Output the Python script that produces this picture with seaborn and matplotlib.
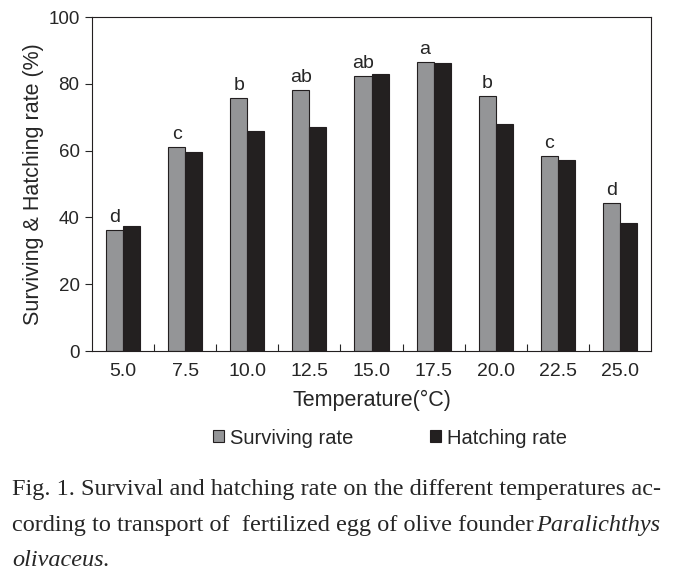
import pandas as pd
import numpy as np
import matplotlib.pyplot as plt
import seaborn as sns
from matplotlib.ticker import FixedLocator

sns.set_style("ticks")
plt.rcParams["font.family"] = ["Liberation Sans", "DejaVu Sans"]

temps = ["5.0", "7.5", "10.0", "12.5", "15.0", "17.5", "20.0", "22.5", "25.0"]
surviving = [36.2, 61.1, 75.7, 78.2, 82.3, 86.5, 76.3, 58.4, 44.2]
hatching = [37.5, 59.7, 66.0, 67.1, 82.9, 86.3, 68.1, 57.1, 38.3]
letters = ["d", "c", "b", "ab", "ab", "a", "b", "c", "d"]

df = pd.DataFrame({
    "Temperature": temps * 2,
    "Rate": surviving + hatching,
    "Series": ["Surviving rate"] * len(temps) + ["Hatching rate"] * len(temps),
})

fig = plt.figure(figsize=(6.75, 5.83), dpi=100)
ax = fig.add_axes([92 / 675, 1 - 351 / 583, (651 - 92) / 675, (351 - 17) / 583])

sns.barplot(data=df, x="Temperature", y="Rate", hue="Series",
            palette=["#939598", "#231f20"], width=0.55, gap=0,
            edgecolor="#231f20", linewidth=0.8, ax=ax, legend=True)

# significance letters above the surviving bars
for i, (v, t) in enumerate(zip(surviving, letters)):
    ax.text(i - 0.1375, v + 1.2, t, ha="center", va="bottom", fontsize=14)

ax.set_ylim(0, 100)
ax.set_xlim(-0.5, len(temps) - 0.5)
ax.set_yticks(range(0, 101, 20))
ax.tick_params(axis="y", labelsize=13.5, length=5, width=0.8, direction="out", pad=4)
ax.tick_params(axis="x", which="major", labelsize=14, length=0, pad=9)
ax.xaxis.set_minor_locator(FixedLocator(np.arange(0.5, len(temps) - 1, 1)))
ax.tick_params(axis="x", which="minor", length=5, width=0.8, direction="in")
for s in ax.spines.values():
    s.set_linewidth(0.8)
    s.set_color("#231f20")

ax.set_xlabel("Temperature(\u00b0C)", fontsize=15.5, labelpad=7)
ax.set_ylabel("Surviving & Hatching rate (%)", fontsize=15.5, labelpad=3)

handles, labels = ax.get_legend_handles_labels()
ax.get_legend().remove()
fig.legend(handles, labels, loc="center", bbox_to_anchor=(0.578, 1 - 438 / 583),
           ncol=2, frameon=False, fontsize=14.5, handlelength=0.55, handleheight=0.55,
           handletextpad=0.3, columnspacing=3.8)

caption = [
    "Fig. 1. Survival and hatching rate on the different temperatures ac-",
    "cording to transport of  fertilized egg of olive founder",
    "olivaceus.",
]
cfont = ["Liberation Serif", "DejaVu Serif"]
fs = 17.5
fig.text(12 / 675, 1 - 490 / 583, caption[0], family=cfont, fontsize=fs, va="center")
fig.text(12 / 675, 1 - 526 / 583, caption[1], family=cfont, fontsize=fs, va="center")
fig.text(660 / 675, 1 - 526 / 583, "Paralichthys", family=cfont, fontsize=fs,
         va="center", ha="right", style="italic")
fig.text(12 / 675, 1 - 561 / 583, caption[2], family=cfont, fontsize=fs,
         va="center", style="italic")

fig.savefig("out.png", dpi=100)
